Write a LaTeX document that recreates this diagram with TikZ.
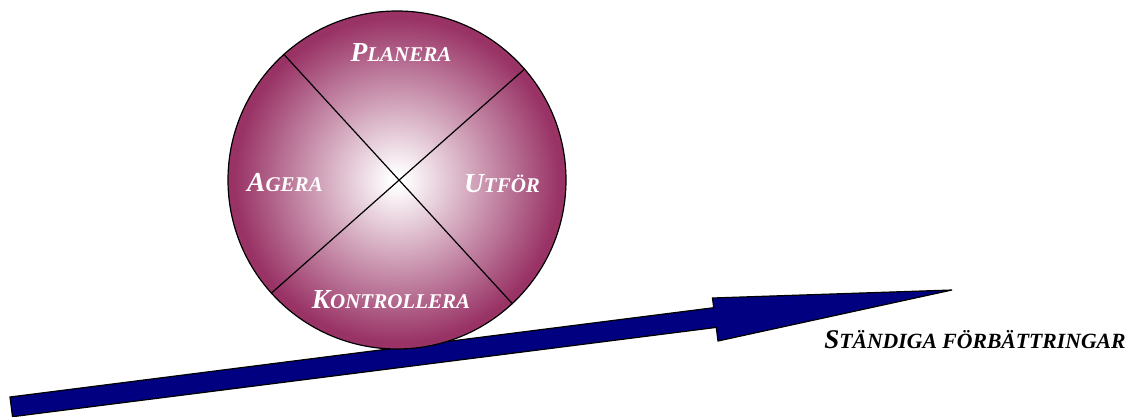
\documentclass[tikz,border=0pt]{standalone}
\usepackage{fontspec}
\setmainfont{Liberation Serif}
\definecolor{plum}{HTML}{993366}
\definecolor{navyblue}{HTML}{000080}
\pgfdeclareradialshading{wheelshade}{\pgfpoint{0bp}{0bp}}{color(0bp)=(white); color(1bp)=(white); color(24bp)=(plum); color(50bp)=(plum)}
\newcommand{\capsc}[4]{{\fontsize{#1}{#1}\selectfont #3}{\fontsize{#2}{#2}\selectfont #4}}
\tikzset{
  wheel/.style={circle, minimum size=338pt, inner sep=0pt, draw=black, line width=1.2pt, shading=wheelshade},
  divider/.style={draw=black, line width=1.2pt},
  arrowbody/.style={fill=navyblue, draw=black, line width=1.2pt, line join=miter},
  phase/.style={anchor=base, text=white, font=\bfseries\itshape, inner sep=0pt},
  motto/.style={anchor=base, text=black, font=\bfseries\itshape, inner sep=0pt}
}
\begin{document}
\begin{tikzpicture}[x=1pt,y=-1pt]
\useasboundingbox (0,0) rectangle (1125,417);
\clip (0,0) rectangle (1125,417);
% improvement arrow
\coordinate (a1) at (10,397);
\coordinate (a2) at (713.7,307.7);
\coordinate (a3) at (712.5,298);
\coordinate (tip) at (952,290);
\coordinate (a5) at (718,341);
\coordinate (a6) at (716.3,327.4);
\coordinate (a7) at (12.5,416.7);
\path[arrowbody] (a1) -- (a2) -- (a3) -- (tip) -- (a5) -- (a6) -- (a7) -- cycle;
% PDCA wheel
\node[wheel] (c) at (397,180) {};
\draw[divider] (c.132.8) -- (c.-47.9);
\draw[divider] (c.41.9) -- (c.222.3);
\node[phase] (plan) at (401,62) {\capsc{27.5}{21}{P}{LANERA}};
\node[phase] (act) at (285,191.5) {\capsc{27.5}{21}{A}{GERA}};
\node[phase] (do) at (502,193) {\capsc{27.5}{21}{U}{TFÖR}};
\node[phase] (check) at (391,308.5) {\capsc{27.5}{21}{K}{ONTROLLERA}};
\node[motto] (label) at (975,348.5) {\capsc{27}{21.7}{S}{TÄNDIGA FÖRBÄTTRINGAR}};
\end{tikzpicture}
\end{document}
